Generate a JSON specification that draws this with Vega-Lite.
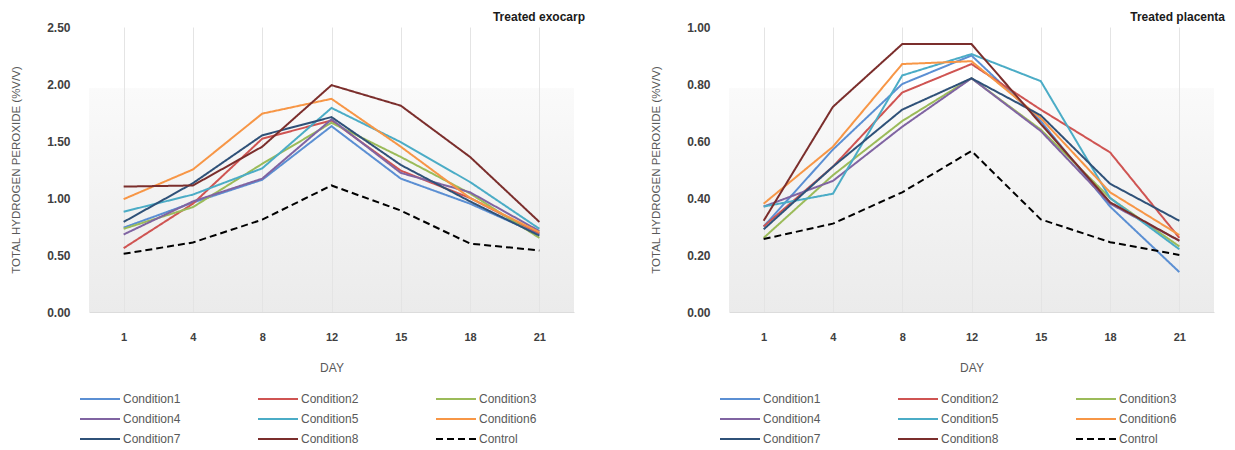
{
  "$schema": "https://vega.github.io/schema/vega-lite/v6.json",
  "background": "white",
  "padding": {"left": 10, "top": 11, "right": 5, "bottom": 0},
  "config": {
    "font": "Liberation Sans",
    "view": {
      "stroke": null,
      "fill": {
        "gradient": "linear", "x1": 0, "y1": 0, "x2": 0, "y2": 1,
        "stops": [
          {"offset": 0, "color": "#ffffff"},
          {"offset": 0.212, "color": "#ffffff"},
          {"offset": 0.216, "color": "#fafafa"},
          {"offset": 1, "color": "#ebebeb"}
        ]
      }
    },
    "concat": {"spacing": 65},
    "axisX": {
      "labelAngle": 0, "labelFontWeight": "bold", "labelColor": "#404040", "labelFontSize": 11,
      "labelPadding": 19, "ticks": false, "domain": true, "domainColor": "#dcdcdc",
      "grid": true, "gridColor": "#e4e4e4",
      "titleFontWeight": "normal", "titleColor": "#595959", "titleFontSize": 12, "titlePadding": 20
    },
    "axisY": {
      "labelFontWeight": "bold", "labelColor": "#404040", "labelFontSize": 12,
      "labelPadding": 19, "ticks": false, "domain": false, "grid": false,
      "titleFontWeight": "normal", "titleColor": "#595959", "titleFontSize": 11.5, "titlePadding": 25
    },
    "legend": {
      "orient": "none", "legendX": 5, "legendY": 366, "columns": 3, "direction": "horizontal",
      "symbolType": "M-4,0H4", "symbolSize": 100, "symbolStrokeWidth": 2,
      "labelFontSize": 12, "labelColor": "#595959", "labelOffset": 17,
      "columnPadding": 73, "rowPadding": 8, "title": null, "gridAlign": "all"
    },
    "title": {"fontSize": 12, "fontWeight": "bold", "color": "#1a1a1a", "anchor": "end", "offset": 2}
  },
  "datasets": {
    "exo": [
      {"day": 1, "series": "Condition1", "value": 0.74}, {"day": 4, "series": "Condition1", "value": 0.96}, {"day": 8, "series": "Condition1", "value": 1.16}, {"day": 12, "series": "Condition1", "value": 1.63}, {"day": 15, "series": "Condition1", "value": 1.17}, {"day": 18, "series": "Condition1", "value": 0.95}, {"day": 21, "series": "Condition1", "value": 0.68},
      {"day": 1, "series": "Condition2", "value": 0.56}, {"day": 4, "series": "Condition2", "value": 0.95}, {"day": 8, "series": "Condition2", "value": 1.52}, {"day": 12, "series": "Condition2", "value": 1.68}, {"day": 15, "series": "Condition2", "value": 1.24}, {"day": 18, "series": "Condition2", "value": 1.0}, {"day": 21, "series": "Condition2", "value": 0.69},
      {"day": 1, "series": "Condition3", "value": 0.73}, {"day": 4, "series": "Condition3", "value": 0.92}, {"day": 8, "series": "Condition3", "value": 1.3}, {"day": 12, "series": "Condition3", "value": 1.66}, {"day": 15, "series": "Condition3", "value": 1.36}, {"day": 18, "series": "Condition3", "value": 1.04}, {"day": 21, "series": "Condition3", "value": 0.65},
      {"day": 1, "series": "Condition4", "value": 0.68}, {"day": 4, "series": "Condition4", "value": 0.97}, {"day": 8, "series": "Condition4", "value": 1.17}, {"day": 12, "series": "Condition4", "value": 1.69}, {"day": 15, "series": "Condition4", "value": 1.22}, {"day": 18, "series": "Condition4", "value": 1.05}, {"day": 21, "series": "Condition4", "value": 0.71},
      {"day": 1, "series": "Condition5", "value": 0.88}, {"day": 4, "series": "Condition5", "value": 1.03}, {"day": 8, "series": "Condition5", "value": 1.26}, {"day": 12, "series": "Condition5", "value": 1.79}, {"day": 15, "series": "Condition5", "value": 1.49}, {"day": 18, "series": "Condition5", "value": 1.14}, {"day": 21, "series": "Condition5", "value": 0.73},
      {"day": 1, "series": "Condition6", "value": 0.99}, {"day": 4, "series": "Condition6", "value": 1.25}, {"day": 8, "series": "Condition6", "value": 1.74}, {"day": 12, "series": "Condition6", "value": 1.87}, {"day": 15, "series": "Condition6", "value": 1.45}, {"day": 18, "series": "Condition6", "value": 1.0}, {"day": 21, "series": "Condition6", "value": 0.7},
      {"day": 1, "series": "Condition7", "value": 0.79}, {"day": 4, "series": "Condition7", "value": 1.13}, {"day": 8, "series": "Condition7", "value": 1.55}, {"day": 12, "series": "Condition7", "value": 1.71}, {"day": 15, "series": "Condition7", "value": 1.29}, {"day": 18, "series": "Condition7", "value": 0.97}, {"day": 21, "series": "Condition7", "value": 0.67},
      {"day": 1, "series": "Condition8", "value": 1.1}, {"day": 4, "series": "Condition8", "value": 1.11}, {"day": 8, "series": "Condition8", "value": 1.45}, {"day": 12, "series": "Condition8", "value": 1.99}, {"day": 15, "series": "Condition8", "value": 1.81}, {"day": 18, "series": "Condition8", "value": 1.36}, {"day": 21, "series": "Condition8", "value": 0.79},
      {"day": 1, "series": "Control", "value": 0.51}, {"day": 4, "series": "Control", "value": 0.61}, {"day": 8, "series": "Control", "value": 0.81}, {"day": 12, "series": "Control", "value": 1.11}, {"day": 15, "series": "Control", "value": 0.89}, {"day": 18, "series": "Control", "value": 0.6}, {"day": 21, "series": "Control", "value": 0.54}
    ],
    "pla": [
      {"day": 1, "series": "Condition1", "value": 0.3}, {"day": 4, "series": "Condition1", "value": 0.57}, {"day": 8, "series": "Condition1", "value": 0.8}, {"day": 12, "series": "Condition1", "value": 0.9}, {"day": 15, "series": "Condition1", "value": 0.67}, {"day": 18, "series": "Condition1", "value": 0.37}, {"day": 21, "series": "Condition1", "value": 0.14},
      {"day": 1, "series": "Condition2", "value": 0.3}, {"day": 4, "series": "Condition2", "value": 0.51}, {"day": 8, "series": "Condition2", "value": 0.77}, {"day": 12, "series": "Condition2", "value": 0.87}, {"day": 15, "series": "Condition2", "value": 0.71}, {"day": 18, "series": "Condition2", "value": 0.56}, {"day": 21, "series": "Condition2", "value": 0.26},
      {"day": 1, "series": "Condition3", "value": 0.26}, {"day": 4, "series": "Condition3", "value": 0.48}, {"day": 8, "series": "Condition3", "value": 0.67}, {"day": 12, "series": "Condition3", "value": 0.82}, {"day": 15, "series": "Condition3", "value": 0.64}, {"day": 18, "series": "Condition3", "value": 0.4}, {"day": 21, "series": "Condition3", "value": 0.23},
      {"day": 1, "series": "Condition4", "value": 0.37}, {"day": 4, "series": "Condition4", "value": 0.46}, {"day": 8, "series": "Condition4", "value": 0.65}, {"day": 12, "series": "Condition4", "value": 0.82}, {"day": 15, "series": "Condition4", "value": 0.635}, {"day": 18, "series": "Condition4", "value": 0.38}, {"day": 21, "series": "Condition4", "value": 0.25},
      {"day": 1, "series": "Condition5", "value": 0.37}, {"day": 4, "series": "Condition5", "value": 0.415}, {"day": 8, "series": "Condition5", "value": 0.83}, {"day": 12, "series": "Condition5", "value": 0.905}, {"day": 15, "series": "Condition5", "value": 0.81}, {"day": 18, "series": "Condition5", "value": 0.4}, {"day": 21, "series": "Condition5", "value": 0.22},
      {"day": 1, "series": "Condition6", "value": 0.38}, {"day": 4, "series": "Condition6", "value": 0.58}, {"day": 8, "series": "Condition6", "value": 0.87}, {"day": 12, "series": "Condition6", "value": 0.88}, {"day": 15, "series": "Condition6", "value": 0.68}, {"day": 18, "series": "Condition6", "value": 0.42}, {"day": 21, "series": "Condition6", "value": 0.27},
      {"day": 1, "series": "Condition7", "value": 0.29}, {"day": 4, "series": "Condition7", "value": 0.51}, {"day": 8, "series": "Condition7", "value": 0.71}, {"day": 12, "series": "Condition7", "value": 0.82}, {"day": 15, "series": "Condition7", "value": 0.69}, {"day": 18, "series": "Condition7", "value": 0.45}, {"day": 21, "series": "Condition7", "value": 0.32},
      {"day": 1, "series": "Condition8", "value": 0.32}, {"day": 4, "series": "Condition8", "value": 0.72}, {"day": 8, "series": "Condition8", "value": 0.94}, {"day": 12, "series": "Condition8", "value": 0.94}, {"day": 15, "series": "Condition8", "value": 0.66}, {"day": 18, "series": "Condition8", "value": 0.385}, {"day": 21, "series": "Condition8", "value": 0.25},
      {"day": 1, "series": "Control", "value": 0.256}, {"day": 4, "series": "Control", "value": 0.31}, {"day": 8, "series": "Control", "value": 0.42}, {"day": 12, "series": "Control", "value": 0.565}, {"day": 15, "series": "Control", "value": 0.325}, {"day": 18, "series": "Control", "value": 0.245}, {"day": 21, "series": "Control", "value": 0.2}
    ]
  },
  "hconcat": [
    {
      "width": 485, "height": 285,
      "title": {"text": "Treated exocarp", "dx": 11, "dy": 5},
      "data": {"name": "exo"},
      "mark": {"type": "line"},
      "encoding": {
        "x": {"field": "day", "type": "ordinal", "sort": [1, 4, 8, 12, 15, 18, 21], "scale": {"type": "point", "padding": 0.5}, "axis": {"title": "DAY"}},
        "y": {"field": "value", "type": "quantitative", "scale": {"domain": [0, 2.5]}, "axis": {"values": [0, 0.5, 1, 1.5, 2, 2.5], "format": ".2f", "title": "TOTAL HYDROGEN PEROXIDE (%V/V)"}},
        "color": {"field": "series", "type": "nominal", "scale": {"domain": ["Condition1", "Condition2", "Condition3", "Condition4", "Condition5", "Condition6", "Condition7", "Condition8", "Control"], "range": ["#5b8fd3", "#cf5452", "#9bbb59", "#8064a2", "#4bacc6", "#f79646", "#2f5178", "#7b2e2c", "#000000"]}},
        "strokeDash": {"field": "series", "type": "nominal", "scale": {"domain": ["Condition1", "Condition2", "Condition3", "Condition4", "Condition5", "Condition6", "Condition7", "Condition8", "Control"], "range": [[1, 0], [1, 0], [1, 0], [1, 0], [1, 0], [1, 0], [1, 0], [1, 0], [7, 4]]}},
        "strokeWidth": {"field": "series", "type": "nominal", "scale": {"domain": ["Condition1", "Condition2", "Condition3", "Condition4", "Condition5", "Condition6", "Condition7", "Condition8", "Control"], "range": [2, 2, 2, 2, 2, 2, 2, 2, 3]}}
      }
    },
    {
      "width": 485, "height": 285,
      "title": {"text": "Treated placenta", "dx": 11, "dy": 5},
      "data": {"name": "pla"},
      "mark": {"type": "line"},
      "encoding": {
        "x": {"field": "day", "type": "ordinal", "sort": [1, 4, 8, 12, 15, 18, 21], "scale": {"type": "point", "padding": 0.5}, "axis": {"title": "DAY"}},
        "y": {"field": "value", "type": "quantitative", "scale": {"domain": [0, 1]}, "axis": {"values": [0, 0.2, 0.4, 0.6, 0.8, 1], "format": ".2f", "title": "TOTAL HYDROGEN PEROXIDE (%V/V)"}},
        "color": {"field": "series", "type": "nominal", "scale": {"domain": ["Condition1", "Condition2", "Condition3", "Condition4", "Condition5", "Condition6", "Condition7", "Condition8", "Control"], "range": ["#5b8fd3", "#cf5452", "#9bbb59", "#8064a2", "#4bacc6", "#f79646", "#2f5178", "#7b2e2c", "#000000"]}},
        "strokeDash": {"field": "series", "type": "nominal", "scale": {"domain": ["Condition1", "Condition2", "Condition3", "Condition4", "Condition5", "Condition6", "Condition7", "Condition8", "Control"], "range": [[1, 0], [1, 0], [1, 0], [1, 0], [1, 0], [1, 0], [1, 0], [1, 0], [7, 4]]}},
        "strokeWidth": {"field": "series", "type": "nominal", "scale": {"domain": ["Condition1", "Condition2", "Condition3", "Condition4", "Condition5", "Condition6", "Condition7", "Condition8", "Control"], "range": [2, 2, 2, 2, 2, 2, 2, 2, 3]}}
      }
    }
  ],
  "resolve": {"scale": {"y": "independent", "color": "independent", "strokeDash": "independent", "strokeWidth": "independent"}, "legend": {"color": "independent", "strokeDash": "independent", "strokeWidth": "independent"}}
}
